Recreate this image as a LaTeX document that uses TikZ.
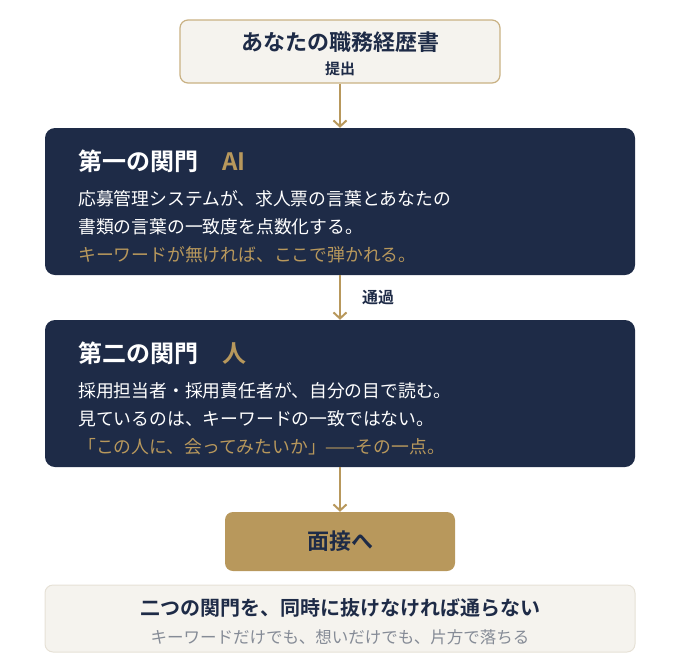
\documentclass[tikz,border=0pt]{standalone}
\usepackage{fontspec}
\setmainfont{Noto Sans CJK JP}[BoldFont={* Bold}]
\usepackage{tikz}
\usetikzlibrary{arrows.meta,positioning}
\definecolor{Navy}{HTML}{1E2B47}
\definecolor{Gold}{HTML}{B8985C}
\definecolor{GoldLine}{HTML}{C9B183}
\definecolor{Cream}{HTML}{F5F3EE}
\definecolor{CreamLine}{HTML}{E6E1D6}
\definecolor{MutedGray}{HTML}{858B96}
\tikzset{
  startnode/.style={draw=GoldLine,fill=Cream,line width=1.2pt,rounded corners=8pt,minimum width=320pt,minimum height=63pt},
  gatenode/.style={fill=Navy,rounded corners=10pt,minimum width=590pt,minimum height=147pt},
  goalnode/.style={fill=Gold,rounded corners=8pt,minimum width=230pt,minimum height=59pt,text=Navy,font=\bfseries\fontsize{22}{26}\selectfont},
  notenode/.style={draw=CreamLine,fill=Cream,line width=1pt,rounded corners=8pt,minimum width=590pt,minimum height=67pt},
  gatetitle/.style={anchor=west,inner sep=0pt,text=white,font=\bfseries\fontsize{24}{28}\selectfont},
  gateline/.style={anchor=west,inner sep=0pt,text=white,font=\fontsize{17.8}{21}\selectfont},
  flowarrow/.style={-{Straight Barb[length=6pt,width=13pt]},line width=2pt,draw=Gold}
}

\begin{document}
\begin{tikzpicture}[x=1pt,y=-1pt]
\useasboundingbox (0,0) rectangle (680,654);
% submission
\node[startnode] (start) at (340,51.5) {};
\node[inner sep=0pt,text=Navy,font=\bfseries\fontsize{22}{26}\selectfont] (starttitle) at (340,42) {あなたの職務経歴書};
\node[inner sep=0pt,text=Navy,font=\bfseries\fontsize{15}{18}\selectfont] (startsub) at (340,69) {提出};
% first gate
\node[gatenode] (gate1) at (340,201.5) {};
\node[gatetitle] (g1title) at (78,161) {第一の関門　\textcolor{Gold}{AI}};
\node[gateline] (g1a) at (78,199) {応募管理システムが、求人票の言葉とあなたの};
\node[gateline] (g1b) at (78,226.5) {書類の言葉の一致度を点数化する。};
\node[gateline,text=Gold] (g1c) at (78,255) {キーワードが無ければ、ここで弾かれる。};
% second gate
\node[gatenode] (gate2) at (340,393.5) {};
\node[gatetitle] (g2title) at (78,353) {第二の関門　\textcolor{Gold}{人}};
\node[gateline] (g2a) at (78,391) {採用担当者・採用責任者が、自分の目で読む。};
\node[gateline] (g2b) at (78,418.5) {見ているのは、キーワードの一致ではない。};
\node[gateline,text=Gold] (g2c) at (78,447) {「この人に、会ってみたいか」——その一点。};
% interview
\node[goalnode] (goal) at (340,541.5) {面接へ};
% summary
\node[notenode] (note) at (340,618.5) {};
\node[inner sep=0pt,text=Navy,font=\bfseries\fontsize{20}{24}\selectfont] (notetitle) at (340,608) {二つの関門を、同時に抜けなければ通らない};
\node[inner sep=0pt,text=MutedGray,font=\fontsize{16.5}{20}\selectfont] (notesub) at (340,637) {キーワードだけでも、想いだけでも、片方で落ちる};
\draw[flowarrow] (start) -- (gate1);
\draw[flowarrow] (gate1) -- node[right=21pt,inner sep=0pt,text=Navy,font=\bfseries\fontsize{16}{19}\selectfont] (passlabel) {通過} (gate2);
\draw[flowarrow] (gate2) -- (goal);
\end{tikzpicture}
\end{document}
